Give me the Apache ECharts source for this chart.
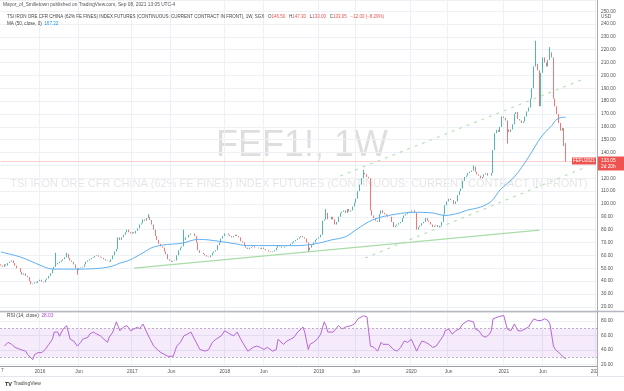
<!DOCTYPE html>
<html><head><meta charset="utf-8">
<script src="https://cdn.jsdelivr.net/npm/echarts@6/dist/echarts.min.js"></script>
<style>html,body{margin:0;padding:0;background:#fff}#c{width:624px;height:391px}</style>
</head><body><div id="c"></div><script>
// ---- data ----
const startWeek = '2015-08-03';
const weekCount = 336; // weekly categories incl. empty future weeks up to 2022-01-03
const closes = [
52,51,53,52,54,55,56,54,52,50,
50,47,45,46,44,43,40,37.5,38,39,
38.5,40,41,39.5,39,41,42,44,46,49,
51,53,54,55,56,57,58.5,61,58,56,
55,53,50,48.5,50,50.5,51,53,55,56,
57,58,58.5,59.5,60,59,58.5,58,57,56,
55.5,55,57,60,63,65,74,72,74,76,
78,80,78,77,78,77,79,81,84,85,
88,87,89,90,87.5,84,80,75,72,69,
67,66,63,61,57,56,55,55.5,56,60,
64,66,67,72,74,74,76,77,77,75,
70,64,62,62,61,60,59,58.5,60,62,
63,64,68,70,73,75,77,77,76,75,
74,75,76,75,74,71,70,68,66,65,
66,66.5,67,66,66,65.5,65,66,65,64,
64,63,62.5,63,64,66,68,67,66,66,
67,68,68,69,70,71,72,73,74,75,
74,73,70,64,66,68,70,72,73,74,
76,87,88,93,88,88,90,88,84,86,
90,93,94,95,93,96,94,95,98,101,
104,110,115,120,124,123,121,120,95,91,
89,87,86,92,95,93,92,91,90,90,
86,82,83,84,85,86,89,91,92,93,
94,95,95,93,80,82,83,85,86,89,
87,86,84,82,83,83.5,82,83,86,92,
99,102,104,103,103,100,102,107,110,112,
118,121,122,124,125,126,129,125,123,122,
120,121,123,124,122,122,124,142,155,157.5,
156,160,168,167,165,158,156,158,162,170,
171.5,166,165,163,164,168,172,175,182,190,
207,209,204,176,202,214,210,207,212,218,
214,182,176,170,163,157,159,145.05,133.05
];
const openOverride = {0:53, 318:146.5};
const highOverride = {31:62, 37:62, 83:92, 103:80, 183:96, 204:126.5, 266:130, 301:227, 309:222, 318:147.3};
const lowOverride = {43:45, 173:63, 285:147, 318:133.0};
const maPoints = [[0,62.6],[11,58.7],[22,52.4],[28,49.5],[32,49.3],[45,49.3],[56,50],[63,51.7],[67,54],[72,56],[80,62],[85,66],[91,68],[102,69.5],[111,72.5],[117,72],[125,70.5],[132,69],[138,67.6],[152,67.6],[167,67.6],[177,69],[186,72],[194,74.5],[201,81],[209,87.5],[218,91],[232,93.5],[243,93],[250,91],[258,93],[262,95],[270,97.6],[276,102],[281,111],[289,121],[297,136.5],[304,152],[310,161],[313,166],[317,167.5],[318,167.22]];
const rsiPoints = [[2,45.5],[4,50.7],[6,48],[8,43.7],[9,45.5],[11,40.8],[14,38.5],[15,33.8],[18,26.8],[19,33.8],[21,36.6],[23,36.6],[25,40.8],[27,47.9],[29,54.9],[30,64.8],[32,64.8],[33,59],[35,69],[37,73.7],[39,54.9],[41,52.5],[43,45.5],[45,50.7],[46,54.9],[49,57.7],[50,62],[52,64.8],[54,62],[56,59.6],[58,54.9],[60,50.7],[61,57.7],[63,64.8],[65,78.9],[67,66.6],[69,71.8],[71,73.7],[73,66.6],[74,69],[77,71.8],[78,69],[80,76],[82,64.8],[84,54.9],[86,45.5],[88,40.8],[90,36.6],[91,36.6],[94,31.4],[95,31],[97,31.4],[99,45.5],[101,50.7],[103,59.6],[105,62],[107,64.8],[108,59.6],[111,45.5],[112,40.8],[115,38.5],[117,40.8],[119,50.7],[121,54.9],[124,59.6],[126,66.6],[129,62],[131,59.6],[133,64.8],[135,54.9],[136,50.7],[139,38.5],[140,40.8],[142,43.7],[144,45.5],[146,43.7],[148,40.8],[150,43.7],[153,38.5],[155,40.8],[156,54.9],[157,52.5],[159,47.9],[161,52.5],[163,54.9],[165,57.7],[167,64.8],[169,69],[170,71.8],[171,64.8],[173,40.8],[174,47.9],[176,50.7],[178,54.9],[180,62],[182,78.9],[183,73.7],[184,64.8],[187,64.8],[188,66.6],[190,73.7],[192,69],[194,71.8],[197,73.7],[199,76],[201,83.1],[204,87.3],[205,87.8],[206,85.9],[208,45.5],[210,43.7],[212,38.5],[214,50.7],[215,47.9],[218,47.9],[219,45.5],[221,40.8],[223,38.5],[225,43.7],[227,52.5],[229,50.7],[231,54.9],[232,52.5],[234,38.5],[235,43.7],[237,52.5],[239,50.7],[241,47.9],[243,43.7],[245,45.5],[246,43.7],[249,59.6],[250,66.6],[252,69],[254,62],[256,66.6],[258,69],[260,76],[263,80.7],[266,78.9],[267,69],[269,66.6],[271,59.6],[273,57.7],[275,62],[276,66.6],[277,83.1],[280,85.9],[281,87.8],[283,87.8],[285,69],[287,66.6],[289,76],[291,66.6],[293,66.6],[294,64.8],[297,71.8],[298,76],[300,83.1],[302,80.7],[304,80.7],[306,83.1],[308,80.7],[309,76],[311,45.5],[312,40.8],[314,36.6],[315,38.5],[317,29.5],[318,28.03]];
const supportLine = [[75,50],[303,79.7]];
const channelUpper = [[191,121.7],[328,197.2]];
const channelLower = [[205,57.9],[328,128]];
const lastPrice = 133.05;
const maLast = 167.22;
const rsiLast = 28.03;

// ---- build ----
const categories = [];
const t0 = Date.parse(startWeek + 'T00:00:00Z');
for (let i = 0; i < weekCount; i++) categories.push(new Date(t0 + i * 7 * 864e5).toISOString().slice(0, 10));
const ohlc = closes.map((c, i) => {
  const o = openOverride[i] !== undefined ? openOverride[i] : (i > 0 ? closes[i - 1] : c);
  const lo = Math.min(o, c, lowOverride[i] !== undefined ? lowOverride[i] : Infinity);
  const hi = Math.max(o, c, highOverride[i] !== undefined ? highOverride[i] : -Infinity);
  return [o, c, lo, hi];
});
const lastPriceLine = [[0, lastPrice], [weekCount - 1, lastPrice]];
function isTick(idx) {
  if (idx <= 0) return false;
  const a = categories[idx], b = categories[idx - 1];
  return a.slice(0, 4) !== b.slice(0, 4) || (a.slice(5, 7) === '06' && b.slice(5, 7) !== '06');
}
function tickText(value, idx) {
  const b = categories[idx - 1] || '';
  return value.slice(0, 4) !== b.slice(0, 4) ? value.slice(0, 4) : 'Jun';
}
const FONT = '"Liberation Sans", Arial, sans-serif';
const GRID = '#edf0f5';
const LBL = '#555';

const chart = echarts.init(document.getElementById('c'), null, {renderer: 'canvas'});
chart.setOption({
  animation: false,
  backgroundColor: '#fff',
  grid: [
    {left: 0, right: 27, top: 0, height: 311},
    {left: 0, right: 27, top: 312, height: 54}
  ],
  xAxis: [
    {type: 'category', gridIndex: 0, data: categories, boundaryGap: true,
     axisLine: {show: false}, axisTick: {show: false}, axisLabel: {show: false},
     splitLine: {show: true, interval: (i) => isTick(i), lineStyle: {color: GRID, width: 1}}},
    {type: 'category', gridIndex: 1, data: categories, boundaryGap: true,
     axisLine: {show: true, lineStyle: {color: '#9a9ea6', width: 1}}, axisTick: {show: false},
     axisLabel: {show: true, interval: (i) => isTick(i), formatter: tickText, fontSize: 4.8, color: LBL, fontFamily: FONT, margin: 3},
     splitLine: {show: true, interval: (i) => isTick(i), lineStyle: {color: GRID, width: 1}}}
  ],
  yAxis: [
    {type: 'value', gridIndex: 0, position: 'right', min: 16.7, max: 258.7, splitNumber: 24, minInterval: 10, maxInterval: 10,
     axisLine: {show: true, lineStyle: {color: '#a8abb2'}}, axisTick: {show: false},
     axisLabel: {fontSize: 4.8, color: LBL, fontFamily: FONT, margin: 4, formatter: (v) => (Math.abs(v % 10) < 1e-6 ? v.toFixed(2) : '')},
     splitLine: {lineStyle: {color: GRID, width: 1}}},
    {type: 'value', gridIndex: 1, position: 'right', min: 18, max: 92.5, splitNumber: 4, minInterval: 20, maxInterval: 20,
     axisLine: {show: true, lineStyle: {color: '#a8abb2'}}, axisTick: {show: false},
     axisLabel: {fontSize: 4.8, color: LBL, fontFamily: FONT, margin: 4, formatter: (v) => (Math.abs(v % 20) < 1e-6 ? v.toFixed(2) : '')},
     splitLine: {lineStyle: {color: GRID, width: 1}}}
  ],
  series: [
    {type: 'line', xAxisIndex: 0, yAxisIndex: 0, data: lastPriceLine, showSymbol: false, silent: true, z: 1,
     lineStyle: {color: 'rgba(239,83,80,0.28)', width: 1}},
    {type: 'candlestick', xAxisIndex: 0, yAxisIndex: 0, data: ohlc, barWidth: 1.1, z: 3,
     itemStyle: {color: '#26a69a', color0: '#ef5350', borderColor: '#26a69a', borderColor0: '#ef5350', borderWidth: 0.8}},
    {type: 'line', xAxisIndex: 0, yAxisIndex: 0, data: maPoints, smooth: 0.3, showSymbol: false, z: 4,
     lineStyle: {color: '#5fb0f0', width: 1}},
    {type: 'line', xAxisIndex: 0, yAxisIndex: 0, data: supportLine, showSymbol: false, z: 2,
     lineStyle: {color: '#a9dca9', width: 1.2}},
    {type: 'line', xAxisIndex: 0, yAxisIndex: 0, data: channelUpper, showSymbol: false, z: 2,
     lineStyle: {color: '#b3e0b3', width: 1.1, type: [3, 5]}},
    {type: 'line', xAxisIndex: 0, yAxisIndex: 0, data: channelLower, showSymbol: false, z: 2,
     lineStyle: {color: '#b3e0b3', width: 1.1, type: [3, 5]}},
    {type: 'line', xAxisIndex: 1, yAxisIndex: 1, data: rsiPoints, showSymbol: false, z: 4,
     lineStyle: {color: '#b666d6', width: 1},
     markArea: {silent: true, itemStyle: {color: 'rgba(160,60,220,0.10)'}, data: [[{yAxis: 30}, {yAxis: 70}]]},
     markLine: {silent: true, symbol: 'none', label: {show: false},
       lineStyle: {color: '#a7a3b3', width: 0.8, type: [2, 2]}, data: [{yAxis: 70}, {yAxis: 30}]}}
  ],
  graphic: [
    {type: 'text', z: 0, x: 302, y: 146, style: {text: 'FEF1!, 1W', align: 'center', verticalAlign: 'middle', font: '36px ' + FONT, fill: 'rgba(0,0,0,0.13)'}},
    {type: 'text', z: 0, x: 299, y: 184, style: {text: 'TSI IRON ORE CFR CHINA (62% FE FINES) INDEX FUTURES (CONTINUOUS: CURRENT CONTRACT IN FRONT)', align: 'center', verticalAlign: 'middle', font: '11px ' + FONT, fill: 'rgba(0,0,0,0.11)'}},
    {type: 'text', z: 50, x: 3, y: 5, style: {text: 'Mayor_of_Smilletown published on TradingView.com, Sep 08, 2021 13:05 UTC-4', verticalAlign: 'middle', font: '4.8px ' + FONT, fill: '#555'}},
    {type: 'text', z: 50, x: 7, y: 16.7, style: {
      text: '{g|TSI IRON ORE CFR CHINA (62% FE FINES) INDEX FUTURES (CONTINUOUS: CURRENT CONTRACT IN FRONT), 1W, SGX   O}{r|146.50}{g|   H}{r|147.30}{g|   L}{r|133.00}{g|   C}{r|133.05   −12.00 (−8.29%)}',
      verticalAlign: 'middle', rich: {g: {font: '4.5px ' + FONT, fill: '#444'}, r: {font: '4.5px ' + FONT, fill: '#ef5350'}}}},
    {type: 'text', z: 50, x: 7, y: 23.5, style: {
      text: '{g|MA (50, close, 0)  }{b|167.22}', verticalAlign: 'middle',
      rich: {g: {font: '4.6px ' + FONT, fill: '#444'}, b: {font: '4.6px ' + FONT, fill: '#2196f3'}}}},
    {type: 'text', z: 50, x: 601, y: 17, style: {text: 'USD', verticalAlign: 'middle', font: '4.8px ' + FONT, fill: '#555'}},
    {type: 'text', z: 50, x: 7, y: 316, style: {
      text: '{g|RSI (14, close)  }{p|28.03}', verticalAlign: 'middle',
      rich: {g: {font: '4.8px ' + FONT, fill: '#444'}, p: {font: '4.8px ' + FONT, fill: '#b04fd0'}}}},
    {type: 'line', z: 60, shape: {x1: 0, y1: 311.5, x2: 624, y2: 311.5}, style: {stroke: '#b5b8c0', lineWidth: 1.5}},
    {type: 'rect', z: 60, shape: {x: 598, y: 366.5, width: 26, height: 10}, style: {fill: '#fff'}},
    {type: 'line', z: 61, shape: {x1: 597.5, y1: 366, x2: 597.5, y2: 376}, style: {stroke: '#a8abb2', lineWidth: 1}},
    {type: 'line', z: 61, shape: {x1: 0, y1: 376.5, x2: 624, y2: 376.5}, style: {stroke: '#e3e6ec', lineWidth: 1}},
    {type: 'text', z: 50, x: 1, y: 371, style: {text: '7', verticalAlign: 'middle', font: '4.8px ' + FONT, fill: '#555'}},
    {type: 'text', z: 50, x: 5, y: 384, style: {
      text: '{t|TV}{n| TradingView}', verticalAlign: 'middle',
      rich: {t: {font: 'bold 5.5px ' + FONT, fill: '#222'}, n: {font: '5px ' + FONT, fill: '#444'}}}},
    {type: 'rect', z: 70, shape: {x: 572, y: 157.5, width: 24, height: 7}, style: {fill: '#ef5350'}},
    {type: 'text', z: 71, x: 584, y: 161, style: {text: 'FEFU2021', align: 'center', verticalAlign: 'middle', font: '4.6px ' + FONT, fill: '#fff'}},
    {type: 'rect', z: 70, shape: {x: 598, y: 156.5, width: 26, height: 14}, style: {fill: '#ef5350'}},
    {type: 'text', z: 71, x: 601, y: 160.5, style: {text: '133.05', verticalAlign: 'middle', font: '4.8px ' + FONT, fill: '#fff'}},
    {type: 'text', z: 71, x: 601, y: 166.5, style: {text: '2d 20h', verticalAlign: 'middle', font: '4.8px ' + FONT, fill: '#fff'}}
  ]
});
</script></body></html>
